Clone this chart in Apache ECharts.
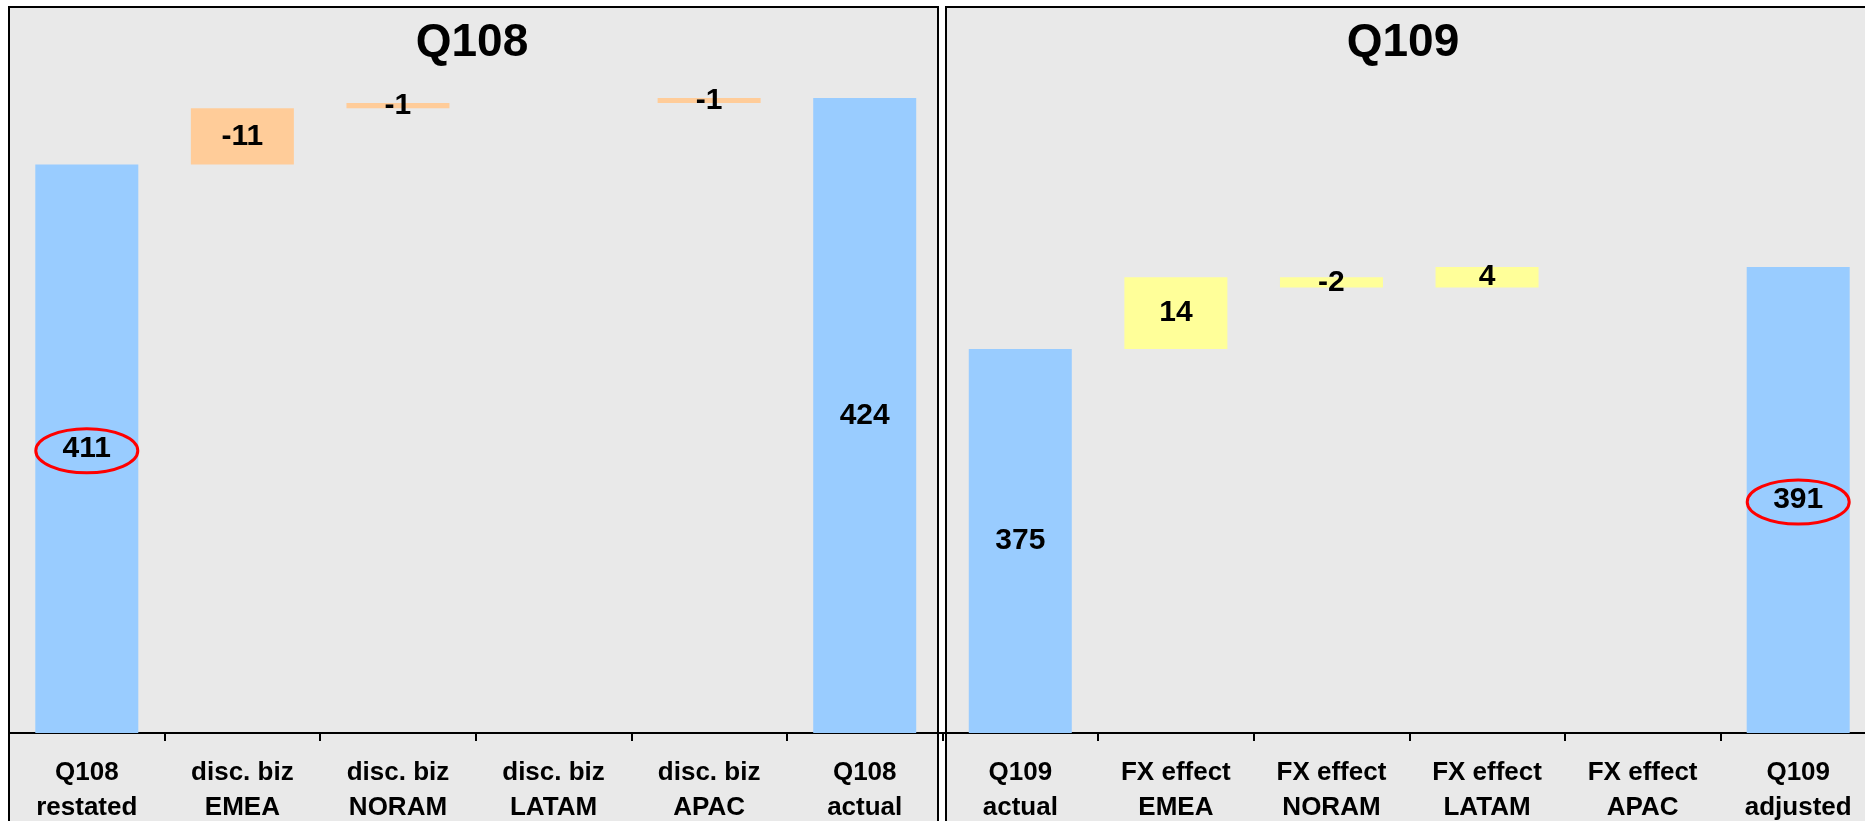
<!DOCTYPE html>
<html>
<head>
<meta charset="utf-8">
<script src="https://cdn.jsdelivr.net/npm/echarts@6/dist/echarts.min.js"></script>
<style>
  html, body { margin: 0; padding: 0; background: #ffffff; }
  #chart { width: 1865px; height: 821px; }
</style>
</head>
<body>
<div id="chart"></div>
<script>
// Q108: bridge from restated revenue back to the reported figure
const q108Categories = ['Q108\nrestated', 'disc. biz\nEMEA', 'disc. biz\nNORAM', 'disc. biz\nLATAM', 'disc. biz\nAPAC', 'Q108\nactual'];
const q108Restated = 411;
const q108Actual = 424;
const discBiz = [-11, -1, 0, -1];

// Q109: bridge from reported revenue to the FX-adjusted figure
const q109Categories = ['Q109\nactual', 'FX effect\nEMEA', 'FX effect\nNORAM', 'FX effect\nLATAM', 'FX effect\nAPAC', 'Q109\nadjusted'];
const q109Actual = 375;
const q109Adjusted = 391;
const fxEffect = [14, -2, 4, 0];

const panelTitles = ['Q108', 'Q109'];
const circledCategories = ['Q108\nrestated', 'Q109\nadjusted'];

const axisMin = 300;
const axisMax = 440;

const FONT = '"Liberation Sans", Arial, Helvetica, sans-serif';
const COLORS = { total: '#99ccff', disc: '#ffcc99', fx: '#ffff99' };

// Build floating segments: each row has a low and a high end on the value axis
const rows = [];
function addTotal(cat, value) {
  rows.push({ cat, kind: 'total', low: axisMin, high: value, text: String(value) });
}
function addSteps(cats, steps, start, kind, sign) {
  let level = start;
  steps.forEach((v, i) => {
    const next = level + sign * v;
    rows.push({
      cat: cats[i],
      kind,
      low: Math.min(level, next),
      high: Math.max(level, next),
      text: v === 0 ? '' : String(v)
    });
    level = next;
  });
}
addTotal(q108Categories[0], q108Restated);
// disc. biz amounts are removed from the actual figure, so walking forward adds them back
addSteps(q108Categories.slice(1, 5), discBiz, q108Restated, 'disc', -1);
addTotal(q108Categories[5], q108Actual);
addTotal(q109Categories[0], q109Actual);
addSteps(q109Categories.slice(1, 5), fxEffect, q109Actual, 'fx', 1);
addTotal(q109Categories[5], q109Adjusted);

const categories = rows.map(r => r.cat);

function segment(kind) {
  return rows.map(r => (r.kind === kind && r.high > r.low) ? r.high - r.low : '-');
}

const valueLabel = {
  show: true,
  position: 'inside',
  formatter: p => rows[p.dataIndex].text,
  color: '#000000',
  fontFamily: FONT,
  fontWeight: 'bold',
  fontSize: 30
};

const chart = echarts.init(document.getElementById('chart'), null, { renderer: 'canvas' });

const GRID = { left: 9, top: 16, width: 1867, height: 717 };

chart.setOption({
  backgroundColor: '#ffffff',
  animation: false,
  grid: { left: GRID.left, top: GRID.top, width: GRID.width, height: GRID.height, containLabel: false, outerBoundsMode: 'none' },
  xAxis: {
    type: 'category',
    data: categories,
    boundaryGap: true,
    axisLine: { show: true, lineStyle: { color: '#000000', width: 2 } },
    axisTick: { show: true, interval: 0, length: 8, lineStyle: { color: '#000000', width: 2 } },
    axisLabel: {
      interval: 0,
      margin: 22,
      color: '#000000',
      fontFamily: FONT,
      fontWeight: 'bold',
      fontSize: 26,
      lineHeight: 35
    },
    splitLine: { show: false }
  },
  yAxis: {
    type: 'value',
    min: axisMin,
    max: axisMax,
    show: false
  },
  series: [
    {
      name: 'base',
      type: 'bar',
      stack: 'bridge',
      barWidth: 103,
      silent: true,
      itemStyle: { color: 'rgba(0,0,0,0)' },
      data: rows.map(r => r.low)
    },
    {
      name: 'total',
      type: 'bar',
      stack: 'bridge',
      barWidth: 103,
      itemStyle: { color: COLORS.total },
      label: valueLabel,
      data: segment('total')
    },
    {
      name: 'disc. biz',
      type: 'bar',
      stack: 'bridge',
      barWidth: 103,
      itemStyle: { color: COLORS.disc },
      label: valueLabel,
      data: segment('disc')
    },
    {
      name: 'FX effect',
      type: 'bar',
      stack: 'bridge',
      barWidth: 103,
      itemStyle: { color: COLORS.fx },
      label: valueLabel,
      data: segment('fx')
    }
  ]
});

// Panel frames, titles and the circled totals
const graphics = [
  { type: 'rect', z: -10, silent: true, shape: { x: 9, y: 7, width: 929, height: 900 }, style: { fill: '#e9e9e9' } },
  { type: 'rect', z: -10, silent: true, shape: { x: 946, y: 7, width: 1000, height: 900 }, style: { fill: '#e9e9e9' } },
  { type: 'rect', z: 50, silent: true, shape: { x: 9, y: 7, width: 929, height: 900 }, style: { fill: 'none', stroke: '#000000', lineWidth: 2 } },
  { type: 'rect', z: 50, silent: true, shape: { x: 946, y: 7, width: 1000, height: 900 }, style: { fill: 'none', stroke: '#000000', lineWidth: 2 } },
  { type: 'text', z: 50, silent: true, x: 472, y: 43, style: { text: panelTitles[0], font: 'bold 46px ' + FONT, fill: '#000000', textAlign: 'center', textVerticalAlign: 'middle' } },
  { type: 'text', z: 50, silent: true, x: 1403, y: 43, style: { text: panelTitles[1], font: 'bold 46px ' + FONT, fill: '#000000', textAlign: 'center', textVerticalAlign: 'middle' } }
];

circledCategories.forEach(cat => {
  const idx = categories.indexOf(cat);
  const r = rows[idx];
  const [cx, cy] = chart.convertToPixel({ gridIndex: 0 }, [idx, (r.low + r.high) / 2]);
  graphics.push({
    type: 'ellipse', z: 60, silent: true,
    shape: { cx: cx, cy: cy + 2, rx: 51, ry: 22 },
    style: { fill: 'none', stroke: '#ff0000', lineWidth: 3 }
  });
});

chart.setOption({ graphic: graphics });
</script>
</body>
</html>
